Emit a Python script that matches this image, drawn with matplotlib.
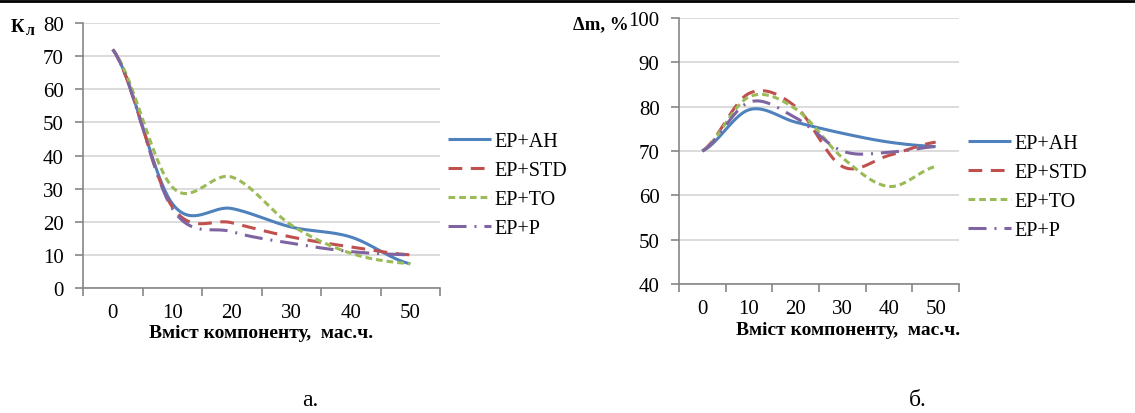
import numpy as np
import matplotlib.pyplot as plt
from matplotlib.lines import Line2D

plt.rcParams['font.family'] = ['Liberation Serif', 'DejaVu Serif']

# data
categories = ['0', '10', '20', '30', '40', '50']
series_names = ['EP+AH', 'EP+STD', 'EP+TO', 'EP+P']

kl_ah = [72, 25.5, 24, 18.4, 15.4, 7.3]
kl_std = [72, 24.5, 19.7, 15.4, 12.4, 10]
kl_to = [72, 30.5, 33.5, 19, 10.5, 7.3]
kl_p = [72, 24, 17, 13.5, 11, 10]

dm_ah = [70, 79.3, 76.5, 74, 72, 71]
dm_std = [70, 83, 80, 66.5, 69, 72]
dm_to = [70, 82.2, 79.5, 68.5, 62, 66.5]
dm_p = [70, 81, 77.5, 70, 69.7, 71]

colors = ['#4F81BD', '#C0504D', '#9BBB59', '#8064A2']
dashes = [None, (4.5, 2.8), (2.2, 1.3), (5.9, 2.6, 0.65, 2.6)]
LW = 2.2

W, H = 1135, 414
fig = plt.figure(figsize=(W / 100, H / 100), dpi=100)


def px_axes(x0, y0, x1, y1):
    return fig.add_axes([x0 / W, 1 - y1 / H, (x1 - x0) / W, (y1 - y0) / H])


def smooth(y, n=40):
    # excel-like smoothed line (catmull-rom between the points)
    y = np.asarray(y, float)
    x = np.arange(len(y))
    m = np.zeros_like(y)
    m[1:-1] = (y[2:] - y[:-2]) / 2
    m[0] = (y[1] - y[0]) / 2
    m[-1] = (y[-1] - y[-2]) / 2
    xs, ys = [], []
    for i in range(len(y) - 1):
        t = np.linspace(0, 1, n)
        h00 = 2 * t**3 - 3 * t**2 + 1
        h10 = t**3 - 2 * t**2 + t
        h01 = -2 * t**3 + 3 * t**2
        h11 = t**3 - t**2
        xs.append(x[i] + t)
        ys.append(h00 * y[i] + h10 * m[i] + h01 * y[i + 1] + h11 * m[i + 1])
    return np.concatenate(xs), np.concatenate(ys)


def style_axes(ax, ymin, ymax, step):
    ax.set_xlim(-0.5, len(categories) - 0.5)
    ax.set_ylim(ymin, ymax)
    ax.set_xticks(range(len(categories)))
    ax.set_xticklabels(categories)
    ax.set_xticks(np.arange(-0.5, len(categories)), minor=True)
    ax.tick_params(axis='x', which='major', length=0, pad=11, labelsize=15)
    ax.tick_params(axis='x', which='minor', length=6, color='#868686', width=1.2)
    ax.set_yticks(np.arange(ymin, ymax + 1, step))
    ax.tick_params(axis='y', length=6, color='#868686', width=1.2, pad=8, labelsize=15)
    ax.yaxis.grid(True, color='#d9d9d9', lw=1.3)
    ax.set_axisbelow(True)
    for s in ['top', 'right']:
        ax.spines[s].set_visible(False)
    for s in ['left', 'bottom']:
        ax.spines[s].set_color('#868686')
        ax.spines[s].set_linewidth(1.2)


def draw(ax, data):
    handles = []
    for vals, c, d, name in zip(data, colors, dashes, series_names):
        xs, ys = smooth(vals)
        ln, = ax.plot(xs, ys, color=c, lw=LW, label=name, solid_capstyle='butt',
                      dash_capstyle='butt')
        if d is not None:
            ln.set_dashes(d)
        handles.append(ln)
    return handles


ax1 = px_axes(83, 24, 440, 289)
style_axes(ax1, 0, 80, 10)
h1 = draw(ax1, [kl_ah, kl_std, kl_to, kl_p])

ax2 = px_axes(679, 19, 959, 285)
style_axes(ax2, 40, 100, 10)
h2 = draw(ax2, [dm_ah, dm_std, dm_to, dm_p])

for ax, h, lx, ly in [(ax1, h1, 448, 186), (ax2, h2, 968, 188)]:
    ax.legend(handles=h, loc='center left', bbox_to_anchor=(lx / W, 1 - ly / H),
              bbox_transform=fig.transFigure, frameon=False, fontsize=14.5,
              handlelength=2.15, handletextpad=0.15, labelspacing=0.5,
              borderpad=0, borderaxespad=0)

# axis titles
fig.text(11 / W, 1 - 27 / H, 'К', fontsize=13.5, fontweight='bold', va='center')
fig.text(26 / W, 1 - 31 / H, 'л', fontsize=11.5, fontweight='bold', va='center')
fig.text(601 / W, 1 - 25 / H, 'Δm, %', fontsize=13.5, fontweight='bold',
         ha='center', va='center')
fig.text(261 / W, 1 - 334 / H, 'Вміст компоненту,  мас.ч.', fontsize=14,
         fontweight='bold', ha='center', va='center')
fig.text(848 / W, 1 - 331 / H, 'Вміст компоненту,  мас.ч.', fontsize=14,
         fontweight='bold', ha='center', va='center')
fig.text(310 / W, 1 - 401 / H, 'а.', fontsize=17, ha='center', va='center')
fig.text(918 / W, 1 - 401 / H, 'б.', fontsize=17, ha='center', va='center')

fig.add_artist(Line2D([0, 1], [1 - 1.5 / H, 1 - 1.5 / H], color='black', lw=2,
                      transform=fig.transFigure))

fig.savefig('out.png', dpi=100)
